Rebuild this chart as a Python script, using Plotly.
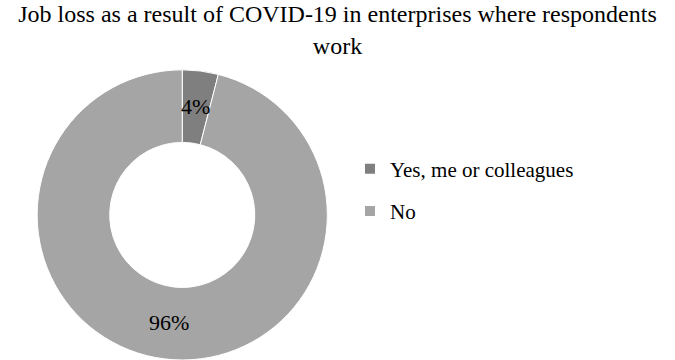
import numpy as np
import plotly.graph_objects as go

# Survey answers and their shares (%)
labels = ["Yes, me or colleagues", "No"]
values = [4, 96]
colors = ["#7f7f7f", "#a5a5a5"]

title_text = "Job loss as a result of COVID-19 in enterprises where respondents<br>work"
serif = "Liberation Serif"

W, H = 675, 360
pie_x = [0.055, 0.485]
pie_y = [0.0, 0.806]
hole = 0.5

fig = go.Figure()

fig.add_trace(
    go.Pie(
        labels=labels,
        values=values,
        hole=hole,
        sort=False,
        direction="clockwise",
        rotation=0,
        marker=dict(colors=colors, line=dict(color="#ffffff", width=1)),
        textinfo="none",
        domain=dict(x=pie_x, y=pie_y),
        hoverinfo="label+percent",
        showlegend=False,
    )
)

# value labels sit at the middle of each ring segment
vals = np.array(values, dtype=float)
ends = np.cumsum(vals) / vals.sum() * 2 * np.pi
mids = ends - vals / vals.sum() * np.pi
radius_px = min((pie_x[1] - pie_x[0]) * W, (pie_y[1] - pie_y[0]) * H) / 2
r_mid = radius_px * (1 + hole) / 2
cx = (pie_x[0] + pie_x[1]) / 2
cy = (pie_y[0] + pie_y[1]) / 2
for v, a in zip(values, mids):
    fig.add_annotation(
        x=cx + r_mid * np.sin(a) / W,
        y=cy + r_mid * np.cos(a) / H,
        xref="paper",
        yref="paper",
        text=f"{v}%",
        showarrow=False,
        xanchor="center",
        yanchor="middle",
        font=dict(family=serif, size=22, color="#000000"),
    )

# legend entries, one group per answer so the rows can be spaced apart
for lab, col in zip(labels, colors):
    fig.add_trace(
        go.Scatter(
            x=[None],
            y=[None],
            mode="markers",
            name=lab,
            legendgroup=lab,
            marker=dict(symbol="square", size=10, color=col),
            showlegend=True,
        )
    )

fig.update_layout(
    width=W,
    height=H,
    margin=dict(l=0, r=0, t=0, b=0),
    paper_bgcolor="#ffffff",
    plot_bgcolor="#ffffff",
    xaxis=dict(visible=False),
    yaxis=dict(visible=False),
    title=dict(
        text=title_text,
        font=dict(family=serif, size=24, color="#000000"),
        x=0.5,
        xanchor="center",
        y=0.938,
        yanchor="top",
        yref="container",
    ),
    legend=dict(
        x=0.5185,
        y=0.472,
        xanchor="left",
        yanchor="middle",
        font=dict(family=serif, size=21, color="#000000"),
        bgcolor="rgba(0,0,0,0)",
        tracegroupgap=12,
        itemwidth=30,
    ),
)

fig.write_html("out.html")
